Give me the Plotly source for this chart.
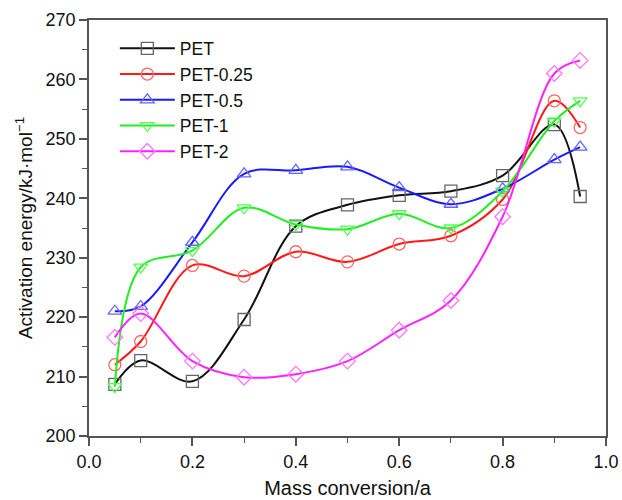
import plotly.graph_objects as go

conversion = [0.05, 0.1, 0.2, 0.3, 0.4, 0.5, 0.6, 0.7, 0.8, 0.9, 0.95]

series_names = ["PET", "PET-0.25", "PET-0.5", "PET-1", "PET-2"]
pet = [208.7, 212.7, 209.2, 219.6, 235.3, 238.9, 240.5, 241.2, 243.8, 252.4, 240.3]
pet_025 = [212.0, 215.9, 228.7, 226.9, 231.0, 229.3, 232.3, 233.7, 239.8, 256.4, 251.9]
pet_05 = [221.0, 221.8, 232.6, 244.1, 244.7, 245.3, 241.8, 239.0, 241.6, 246.5, 248.6]
pet_1 = [208.3, 228.4, 231.2, 238.4, 235.6, 234.8, 237.4, 235.0, 241.2, 253.0, 256.4]
pet_2 = [216.6, 220.6, 212.6, 209.9, 210.4, 212.6, 217.8, 222.8, 236.9, 261.0, 263.2]

values = [pet, pet_025, pet_05, pet_1, pet_2]
line_colors = ["#111111", "#ff1a1a", "#1a1aff", "#22ee22", "#ff22ff"]
marker_colors = ["#666666", "#ff6666", "#6666ff", "#55ff55", "#ff77ff"]
symbols = ["square-open", "circle-open", "triangle-up-open", "triangle-down-open", "diamond-open"]

FONT = "Liberation Sans, Arial, Helvetica, sans-serif"

fig = go.Figure()
for name, ys, lc, mc, sym in zip(series_names, values, line_colors, marker_colors, symbols):
    fig.add_trace(go.Scatter(
        x=conversion, y=ys, name=name, mode="lines+markers",
        line=dict(color=lc, width=2, shape="spline", smoothing=1.0),
        marker=dict(symbol=sym, size=12, color=mc, line=dict(color=mc, width=1.3)),
    ))

axis_common = dict(
    showgrid=False, zeroline=False, showline=True, linecolor="#555555", linewidth=1.8,
    mirror=True, ticks="outside", ticklen=8, tickwidth=1.6, tickcolor="#555555",
    tickfont=dict(family=FONT, size=18, color="#111111"), automargin=False,
)

fig.update_xaxes(
    range=[0, 1.0], dtick=0.2, tickformat=".1f",
    title=dict(text="Mass conversion/a", font=dict(family=FONT, size=20, color="#111111"), standoff=10),
    minor=dict(ticks="outside", dtick=0.1, ticklen=5, tickcolor="#555555", tickwidth=1.4),
    **axis_common,
)
fig.update_yaxes(
    range=[200, 270], dtick=10,
    title=dict(text="Activation energy/kJ·mol<sup>−1</sup>", font=dict(family=FONT, size=19, color="#111111"), standoff=8),
    minor=dict(ticks="outside", dtick=5, ticklen=5, tickcolor="#555555", tickwidth=1.4),
    **axis_common,
)

fig.update_layout(
    width=622, height=500,
    margin=dict(l=89, r=16, t=20, b=64),
    paper_bgcolor="white", plot_bgcolor="white",
    legend=dict(x=0.05, y=0.975, xanchor="left", yanchor="top", bgcolor="rgba(0,0,0,0)",
                font=dict(family=FONT, size=17.5, color="#111111"),
                itemwidth=55, tracegroupgap=0),
    showlegend=True,
)

fig.write_html("out.html")
